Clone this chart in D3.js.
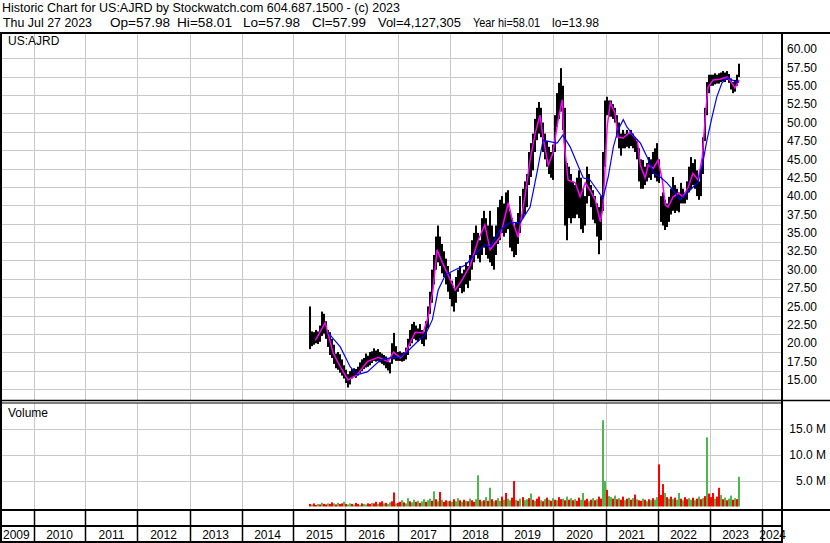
<!DOCTYPE html>
<html><head><meta charset="utf-8">
<script src="https://cdn.jsdelivr.net/npm/d3@7"></script>
<style>
body{margin:0;background:#fff}
svg{display:block}
text{font-family:"Liberation Sans",Arial,sans-serif;font-size:12px;fill:#000}
</style>
</head><body><svg id="c" width="830" height="543"></svg>
<script>
// ---------------- data ----------------
const titleLine = "Historic Chart for US:AJRD by Stockwatch.com 604.687.1500 - (c) 2023";
const quoteParts = ["Thu Jul 27 2023","Op=57.98","Hi=58.01","Lo=57.98","Cl=57.99","Vol=4,127,305","Year hi=58.01","lo=13.98"];
const symbolLabel = "US:AJRD";
const volumeLabel = "Volume";
const yearLabels = ["2009","2010","2011","2012","2013","2014","2015","2016","2017","2018","2019","2020","2021","2022","2023","2024"];
const priceTicks = [15,17.5,20,22.5,25,27.5,30,32.5,35,37.5,40,42.5,45,47.5,50,52.5,55,57.5,60];
const volumeTicks = [5,10,15];
const firstDate = "2015-04-27", lastDate = "2023-07-27";

// bi-weekly high / low (USD)
const highs = [
25.0,21.6,21.5,21.8,21.6,22.4,24.3,24.0,23.0,21.8,21.5,
20.6,19.8,18.6,18.8,18.5,17.8,17.0,16.4,15.8,16.2,
16.5,16.6,16.5,16.8,17.4,17.8,18.0,18.6,18.3,18.8,18.9,19.3,19.0,
19.2,18.8,18.6,18.4,18.2,17.8,17.4,20.0,21.4,19.6,18.8,
18.9,18.7,18.8,19.4,20.6,21.8,22.6,22.9,22.4,22.0,22.6,21.8,21.6,23.0,
25,27,30,32,34.5,36.0,34.5,33.5,32.5,31.5,30.5,29.5,28.5,27.5,29.0,
30.0,30.5,29.5,30.0,31.0,30.5,32,34,35,36,35,34,37,38,37,36,38,
36,34.5,36,38.5,39.5,40,39,40.5,40.8,38,37,36,36.5,37.7,40,41,42,43,
46,47.2,48.5,50.5,52,52.8,52,50,48.5,47.5,46.7,46,47,
51,54,55.4,57.4,55,52,44.5,
44,43,42,41.5,42.5,43.5,42.5,41,40,44,43,41.5,40.8,40,39,38.5,40,
46,53,53.5,53,53,52.5,52,51,50,48.5,
49,48.5,49,48.5,49,48.5,48,47.5,46.5,45,
44.9,44,44.5,45.3,45,46,46.5,47.2,
45,40,40.5,39.5,39,39.9,41,42.6,41.5,41,40.5,41.8,41,40.5,42,44,45.3,44.5,45,43.5,42,44,
48,52,55.5,56.5,56.5,56.5,56.7,56.5,56.7,56.8,57,56.8,57,56.6,56,55.5,55.8,56.5,58.0
];
const lows = [
19.2,19.6,19.8,20.0,19.9,20.2,21.0,21.3,20.6,19.5,18.4,
18.0,17.2,16.6,16.4,16.0,15.6,15.2,14.6,13.98,14.4,
15.2,15.4,15.3,15.6,15.9,16.2,16.5,16.7,16.8,17.0,17.3,17.6,17.5,
17.6,17.4,17.2,17.0,16.6,16.3,15.9,17.2,17.8,17.6,17.6,
17.6,17.5,17.6,17.8,18.4,19.6,20.0,20.6,20.4,20.2,20.6,19.9,19.6,20.5,
22,24,25.5,28,30,31,30.5,29.5,29.0,28,27,26,25,24.3,25.5,
27,27.5,26.8,27.0,28,27.5,28.5,30,31,32,31.5,31,32,33,32,31.5,31,
30.5,30,32,33.5,34,35,34.5,35,35.5,33,32.5,31.7,32,33.5,35,37,37.5,38.5,
41.5,42.6,43.5,46,47.6,48.5,48,46,45,44,43,42.5,42.2,
46,49.4,50.5,51.5,49,36,34,
37,36.3,37,37,37.5,37,35.5,35,36,39,40,38.5,36.8,36.3,34.5,32.1,34,
38,44,51,50.8,50.8,50.5,50,48,46.5,45.5,
46.5,46.5,46.7,46.5,46.8,46.5,46,45,42,41,
41,41.5,42,42.5,42.2,43,42.5,42,
41.8,36.5,36,35.4,35.8,36.5,37.5,38,37.7,38,37.8,39,39,39,39.5,40.5,41,41.5,41,40,39.5,40,
43,47.5,51,54,55,55,55.2,55.3,55.3,55.5,55.6,55.5,55.8,55.4,54.5,54,54.2,55,56.2
];
// bi-weekly volume (millions) and direction (G up / R down)
const volumes = [
0.5,0.4,0.6,0.3,0.5,0.4,0.7,0.5,0.4,0.6,
0.5,0.8,0.6,0.4,0.7,0.5,0.6,0.9,0.5,0.4,
0.6,0.5,0.4,0.7,0.5,0.3,0.6,0.5,0.4,0.6,
0.5,0.7,0.6,0.9,0.5,0.8,1.0,0.6,0.7,0.5,
0.8,1.0,2.7,0.6,0.7,0.9,1.2,0.8,0.6,1.6,
1.0,0.8,1.3,0.9,1.1,0.7,1.0,1.4,0.9,1.2,
1.5,1.1,2.9,1.4,1.0,2.8,1.3,0.9,1.2,1.0,
1.1,0.9,1.4,1.0,1.6,1.2,0.9,1.3,1.1,1.0,
1.5,1.2,0.9,1.4,6.0,1.3,1.0,1.2,1.8,1.1,
3.6,1.4,1.0,1.2,1.6,1.1,1.9,1.3,2.6,1.5,
1.2,1.7,4.9,1.3,1.1,1.5,1.8,1.2,1.4,1.6,
2.5,1.3,1.1,1.5,1.9,1.2,1.0,1.4,1.7,1.3,
1.1,1.6,1.3,1.2,1.8,1.4,1.5,1.2,1.9,1.3,
1.6,1.2,1.4,1.1,1.7,1.3,2.6,1.2,1.5,1.0,
1.3,1.6,1.2,1.4,1.9,1.5,16.6,4.9,3.2,2.0,
1.8,1.5,2.1,1.4,1.6,1.3,1.9,1.2,1.5,1.7,
1.3,1.6,2.3,1.4,1.2,1.1,1.5,1.3,1.0,1.4,
1.2,1.6,1.3,1.8,8.1,2.2,4.3,2.6,1.8,1.5,
1.9,1.4,1.7,1.3,2.6,1.5,1.2,1.8,1.4,1.6,
1.3,1.7,1.2,1.5,1.9,1.4,1.6,2.0,13.3,2.5,
1.8,2.6,1.5,1.9,3.6,2.2,1.4,1.7,1.2,1.5,
2.1,1.3,1.6,1.4,5.7
];
const volumeDir =
"RGRRGRGRRG"+"RRGRGRRGRG"+"GRGRRGRGGR"+"RGRRGRRGRG"+"GRRGRRGRGG"+
"RGGRGRGGRG"+"GRGRGRGRRG"+"RGRGGRGRGR"+"GRRGGRGRGR"+"GRGRGGRGRG"+
"GRRGRGRGGR"+"GRGRRGRGRG"+"RGRGRRGRGR"+"GRGRRGGRRG"+"RGRGRRGGRG"+
"GRGRGRRGRG"+"RGRGRRGRGR"+"GRGGRRRGRG"+"RGRGGRGRRG"+"GRGRGRGRGR"+
"RRGRRGRGRG"+"GRGRG";

// short moving average (magenta): decimal year / value
const fastMaT = [2015.42,2015.61,2015.76,2015.90,2016.05,2016.22,2016.42,2016.63,2016.82,2016.92,2017.05,2017.15,2017.34,2017.49,2017.59,2017.68,2017.76,2017.86,2017.97,2018.11,2018.24,2018.40,2018.55,2018.68,2018.78,2018.97,2019.13,2019.22,2019.32,2019.45,2019.55,2019.65,2019.74,2019.80,2019.90,2019.99,2020.09,2020.17,2020.20,2020.28,2020.42,2020.51,2020.61,2020.70,2020.80,2020.90,2020.95,2021.03,2021.09,2021.18,2021.24,2021.34,2021.47,2021.61,2021.67,2021.76,2021.82,2021.92,2022.01,2022.09,2022.15,2022.20,2022.30,2022.40,2022.49,2022.59,2022.68,2022.78,2022.86,2022.92,2022.97,2023.07,2023.20,2023.34,2023.43,2023.49,2023.57];
const fastMaV = [20.4,22.8,18.7,16.8,15.0,15.7,17.5,18.1,17.5,18.8,18.0,18.7,21.5,21.4,23.6,27.2,32.7,31.0,29.3,27.2,28.6,30.6,34.0,36.1,32.7,34.4,39.1,36.4,34.4,39.9,44.9,48.6,51.0,47.9,44.2,45.9,50.4,53.1,47.6,42.2,41.8,39.9,41.8,40.8,39.5,36.5,38.5,49.4,52.7,51.3,48.0,47.9,48.7,47.6,44.2,42.5,44.2,43.8,44.9,42.2,38.8,38.5,39.9,40.4,39.9,41.2,43.1,42.2,45.3,50.8,54.8,55.8,55.9,56.2,55.4,54.7,55.8];
// long moving average (blue)
const slowMaT = [2015.67,2015.90,2016.09,2016.22,2016.42,2016.67,2016.86,2017.05,2017.18,2017.38,2017.53,2017.67,2017.78,2017.92,2018.11,2018.30,2018.49,2018.68,2018.78,2018.97,2019.17,2019.36,2019.55,2019.68,2019.80,2019.93,2020.07,2020.18,2020.32,2020.45,2020.57,2020.70,2020.84,2020.95,2021.05,2021.15,2021.24,2021.34,2021.41,2021.53,2021.67,2021.80,2021.92,2022.05,2022.18,2022.30,2022.43,2022.57,2022.68,2022.78,2022.88,2022.95,2023.05,2023.14,2023.24,2023.34,2023.43,2023.53,2023.57];
const slowMaV = [21.4,19.5,16.8,15.7,16.1,17.7,18.0,18.1,18.8,20.2,21.1,23.2,27.2,29.3,30.0,30.6,32.0,33.4,33.1,35.4,36.4,36.4,38.5,43.1,47.6,47.4,47.2,48.3,46.7,44.5,42.5,42.2,40.8,39.7,42.6,46.7,49.0,50.4,49.4,48.3,47.2,45.3,43.1,42.6,41.8,40.8,39.5,40.4,41.2,41.9,44.9,47.6,50.8,53.5,55.4,56.1,55.8,55.5,55.5];

// ---------------- layout ----------------
const W = 830, H = 543;
const plotL = 2, plotR = 782;
const priceTop = 34, priceBot = 400;
const volTop = 403, volBot = 509;
const svg = d3.select("#c");

function decYear(t){const y=Math.floor(t);const s=new Date(y,0,1),e=new Date(y+1,0,1);return new Date(+s+(t-y)*(e-s));}

const x = d3.scaleTime().domain([new Date(2010,0,1), new Date(2024,0,1)]).range([33.5, 761.5]);
const y = d3.scaleLinear().domain([15,60]).range([380,49]);
const yv = d3.scaleLinear().domain([0,15]).range([506.5,428.5]);

const n = Math.min(highs.length, lows.length);
const t0 = new Date(firstDate+"T00:00:00"), t1 = new Date(lastDate+"T00:00:00");
const dates = d3.range(n).map(i => new Date(+t0 + (t1-t0)*i/(n-1)));

svg.append("rect").attr("width",W).attr("height",H).attr("fill","#fff");

// header (segment positions / widths matched to the reference)
svg.append("text").attr("x",2).attr("y",12).attr("textLength",398).attr("lengthAdjust","spacingAndGlyphs").text(titleLine);
const qx = [3,110,177,243,312,378,473,552];
const qw = [89,60,55,57,54,83,67,47];
quoteParts.forEach((s,i)=>svg.append("text").attr("x",qx[i]).attr("y",27)
  .attr("textLength",qw[i]).attr("lengthAdjust","spacingAndGlyphs").text(s));

// clip paths
svg.append("clipPath").attr("id","cp").append("rect").attr("x",plotL).attr("y",priceTop).attr("width",plotR-plotL).attr("height",priceBot-priceTop);
svg.append("clipPath").attr("id","cv").append("rect").attr("x",plotL).attr("y",volTop).attr("width",plotR-plotL).attr("height",volBot-volTop);

const grid = "#c8c8c8";
const yearBounds = d3.range(2010,2025).map(yr=>new Date(yr,0,1));

// price grid
const gp = svg.append("g").attr("clip-path","url(#cp)");
gp.selectAll(".vg").data(yearBounds).join("line")
  .attr("x1",d=>Math.round(x(d))+0.5).attr("x2",d=>Math.round(x(d))+0.5)
  .attr("y1",priceTop).attr("y2",priceBot).attr("stroke",grid);
gp.selectAll(".hg").data(priceTicks).join("line")
  .attr("x1",plotL).attr("x2",plotR)
  .attr("y1",d=>Math.round(y(d-1.25))+0.5).attr("y2",d=>Math.round(y(d-1.25))+0.5).attr("stroke",grid);

// price bars
gp.selectAll(".bar").data(d3.range(n)).join("rect")
  .attr("x",i=>Math.round(x(dates[i]))-1).attr("width",2)
  .attr("y",i=>y(highs[i])).attr("height",i=>Math.max(1,y(lows[i])-y(highs[i])))
  .attr("fill","#000");

const maLine = d3.line().x(d=>x(decYear(d[0]))).y(d=>y(d[1]));
gp.append("path").datum(fastMaT.map((t,i)=>[t,fastMaV[i]]))
  .attr("d",maLine).attr("fill","none").attr("stroke","#ff00ff").attr("stroke-width",1.5);
gp.append("path").datum(slowMaT.map((t,i)=>[t,slowMaV[i]]))
  .attr("d",maLine).attr("fill","none").attr("stroke","#0000ff").attr("stroke-width",1.2);

// volume grid
const gv = svg.append("g").attr("clip-path","url(#cv)");
gv.selectAll(".vg").data(yearBounds).join("line")
  .attr("x1",d=>Math.round(x(d))+0.5).attr("x2",d=>Math.round(x(d))+0.5)
  .attr("y1",volTop).attr("y2",volBot).attr("stroke",grid);
gv.selectAll(".hg").data(volumeTicks).join("line")
  .attr("x1",plotL).attr("x2",plotR)
  .attr("y1",d=>Math.round(yv(d))+0.5).attr("y2",d=>Math.round(yv(d))+0.5).attr("stroke",grid);
gv.selectAll(".vb").data(d3.range(Math.min(n,volumes.length))).join("rect")
  .attr("x",i=>Math.round(x(dates[i]))-1).attr("width",2)
  .attr("y",i=>yv(volumes[i])).attr("height",i=>yv(0)-yv(volumes[i]))
  .attr("fill",i=>volumeDir[i]==="G"?"#4cb84c":"#ff0000");

// frame lines
const blk = (x1,y1,x2,y2,w=2)=>svg.append("line").attr("x1",x1).attr("y1",y1).attr("x2",x2).attr("y2",y2).attr("stroke","#000").attr("stroke-width",w);
blk(0,33,W,33);
blk(1,33,1,543);
blk(782,33,782,543);
blk(0,400.5,W,400.5,1.5);
blk(0,403,plotR,403,1);
blk(0,510,W,510);
blk(0,526,plotR,526);
blk(0,542,plotR,542);
yearBounds.forEach(d=>blk(Math.round(x(d))+0.5,510,Math.round(x(d))+0.5,542,1.5));

// labels
svg.append("text").attr("x",8).attr("y",45).text(symbolLabel);
svg.append("text").attr("x",8).attr("y",417).text(volumeLabel);
priceTicks.forEach(v=>svg.append("text").attr("x",787).attr("y",y(v)).attr("dy","0.35em").text(v.toFixed(2)));
volumeTicks.forEach(v=>svg.append("text").attr("x",826).attr("y",yv(v)).attr("dy","0.35em").attr("text-anchor","end").text(v.toFixed(1)+" M"));
yearLabels.forEach((s,i)=>{
  const yr=+s; const cx=(x(new Date(yr,0,1))+x(new Date(yr+1,0,1)))/2;
  const t=svg.append("text").attr("y",539).text(s);
  if(i===0) t.attr("x",3);
  else if(i===yearLabels.length-1) t.attr("x",786).attr("text-anchor","end");
  else t.attr("x",cx).attr("text-anchor","middle");
});
</script>
</body></html>
